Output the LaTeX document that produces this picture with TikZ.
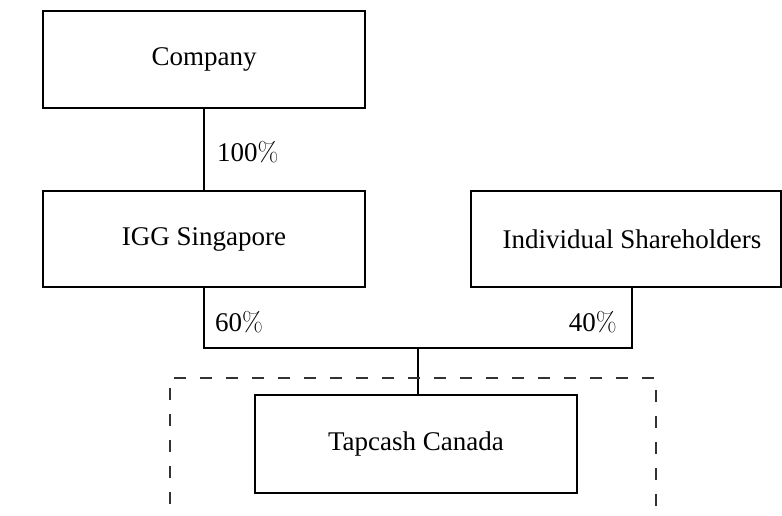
\documentclass[tikz,border=0pt]{standalone}
\usepackage{fontspec}
\setmainfont{Liberation Serif}
\newfontfamily\lmfont{Latin Modern Roman}
\begin{document}
\begin{tikzpicture}[x=1pt,y=-1pt,
  box/.style={draw, line width=2pt, rectangle, inner sep=0pt, font=\fontsize{27}{32}\selectfont},
  pct/.style={inner sep=0pt, font=\fontsize{27}{32}\selectfont},
  conn/.style={line width=2pt},
  group/.style={line width=2pt, dash pattern=on 12pt off 14pt, draw=black!80}]
\clip (0,0) rectangle (782,515);
\fill[white] (0,0) rectangle (782,515);
\node[box, minimum width=322pt, minimum height=97pt] (comp) at (204,59) {Company};
\node[box, minimum width=322pt, minimum height=96pt] (igg) at (204,239) {IGG Singapore};
\node[box, minimum width=310pt, minimum height=96pt,
  label={[xshift=6pt, font=\fontsize{27}{32}\selectfont]center:Individual Shareholders}] (ind) at (626,239) {};
\node[box, minimum width=322pt, minimum height=98pt] (tap) at (416,444) {Tapcash Canada};
\coordinate (join) at (418,348);
\draw[conn] (comp.south) -- (igg.north);
\draw[conn] (igg.south) |- ([xshift=6pt]ind.south |- join) -- ([xshift=6pt]ind.south);
\draw[conn] (join) -- (join |- tap.north);
\draw[group] (170,530) -- (170,378) -- (656,378) -- (656,530);
\node[pct, anchor=west] (p100) at (217,152) {100{\lmfont\%}};
\node[pct, anchor=west] (p60) at (215,322) {60{\lmfont\%}};
\node[pct, anchor=east] (p40) at (617,322) {40{\lmfont\%}};
\end{tikzpicture}
\end{document}
